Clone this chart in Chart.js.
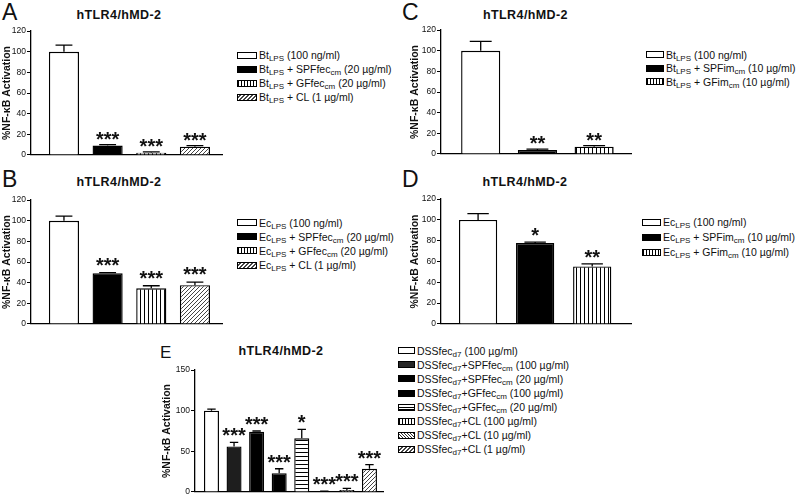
<!DOCTYPE html>
<html>
<head>
<meta charset="utf-8">
<script src="https://cdn.jsdelivr.net/npm/chart.js@4.4.0/dist/chart.umd.min.js"></script>
<style>
html, body { margin: 0; padding: 0; background: #fff; }
#fig { position: relative; width: 796px; height: 498px; overflow: hidden;
       font-family: "Liberation Sans", Arial, sans-serif; color: #111; }
#fig canvas { position: absolute; }
.letter { position: absolute; font-size: 23px; line-height: 23px; }
.title { position: absolute; width: 120px; text-align: center; font-weight: bold;
         font-size: 12.5px; line-height: 12px; letter-spacing: 0.4px; }
.row { position: absolute; height: 12px; line-height: 12px; font-size: 10.5px; white-space: nowrap; }
.sw { position: absolute; left: 0; top: 2.5px; height: 7px; box-sizing: border-box; border: 1px solid #000; }
.row .t { position: absolute; top: 0; }
sub { font-size: 8px; vertical-align: -2px; line-height: 0; }
</style>
</head>
<body>
<div id="fig"></div>
<script>
// --- data ---
const panelALabels = ['Bt<sub>LPS</sub> (100 ng/ml)', 'Bt<sub>LPS</sub> + SPFfec<sub>cm</sub> (20 µg/ml)',
                      'Bt<sub>LPS</sub> + GFfec<sub>cm</sub> (20 µg/ml)', 'Bt<sub>LPS</sub> + CL (1 µg/ml)'];
const panelAValues = [100, 9, 2.2, 8];
const panelAErrors = [6.5, 1, 0.8, 1];
const panelAStars = ['', '***', '***', '***'];

const panelBLabels = ['Ec<sub>LPS</sub> (100 ng/ml)', 'Ec<sub>LPS</sub> + SPFfec<sub>cm</sub> (20 µg/ml)',
                      'Ec<sub>LPS</sub> + GFfec<sub>cm</sub> (20 µg/ml)', 'Ec<sub>LPS</sub> + CL (1 µg/ml)'];
const panelBValues = [100, 49, 34.5, 37.5];
const panelBErrors = [4.5, 0.7, 2.5, 3];
const panelBStars = ['', '***', '***', '***'];

const panelCLabels = ['Bt<sub>LPS</sub> (100 ng/ml)', 'Bt<sub>LPS</sub> + SPFim<sub>cm</sub> (10 µg/ml)',
                      'Bt<sub>LPS</sub> + GFim<sub>cm</sub> (10 µg/ml)'];
const panelCValues = [100, 3.8, 7];
const panelCErrors = [9, 0.8, 1];
const panelCStars = ['', '**', '**'];

const panelDLabels = ['Ec<sub>LPS</sub> (100 ng/ml)', 'Ec<sub>LPS</sub> + SPFim<sub>cm</sub> (10 µg/ml)',
                      'Ec<sub>LPS</sub> + GFim<sub>cm</sub> (10 µg/ml)'];
const panelDValues = [100, 77.7, 55.3];
const panelDErrors = [6, 0.9, 2.4];
const panelDStars = ['', '*', '**'];

const panelELabels = ['DSSfec<sub>d7</sub> (100 µg/ml)', 'DSSfec<sub>d7</sub>+SPFfec<sub>cm</sub> (100 µg/ml)',
                      'DSSfec<sub>d7</sub>+SPFfec<sub>cm</sub> (20 µg/ml)', 'DSSfec<sub>d7</sub>+GFfec<sub>cm</sub> (100 µg/ml)',
                      'DSSfec<sub>d7</sub>+GFfec<sub>cm</sub> (20 µg/ml)', 'DSSfec<sub>d7</sub>+CL (100 µg/ml)',
                      'DSSfec<sub>d7</sub>+CL (10 µg/ml)', 'DSSfec<sub>d7</sub>+CL (1 µg/ml)'];
const panelEValues = [100, 56, 74, 23, 66, 0.5, 2.4, 28.5];
const panelEErrors = [2, 5, 1, 5.5, 11, 0.5, 2, 5];
const panelEStars = ['', '***', '***', '***', '*', '***', '***', '***'];

const yTitle = '%NF-\u03baB Activation';
const panelTitle = 'hTLR4/hMD-2';

Chart.defaults.font.family = '"Liberation Sans", Arial, sans-serif';
Chart.defaults.color = '#111';

// fill patterns for the bars
function tile(w, h, draw) {
  const c = document.createElement('canvas');
  c.width = w; c.height = h;
  const g = c.getContext('2d');
  g.fillStyle = '#fff'; g.fillRect(0, 0, w, h);
  draw(g);
  return document.createElement('canvas').getContext('2d').createPattern(c, 'repeat');
}
function barFill(key) {
  if (key === 'white') return '#fff';
  if (key === 'black') return '#000';
  if (key === 'dark') return '#1e1e1e';
  if (key === 'vstripe') return tile(4, 4, g => { g.fillStyle = '#000'; g.fillRect(0, 0, 1, 4); });
  if (key === 'hstripe') return tile(4, 4, g => { g.fillStyle = '#000'; g.fillRect(0, 0, 4, 1); });
  if (key === 'hatch') return tile(4, 4, g => { g.fillStyle = '#444'; for (let i = 0; i < 4; i++) g.fillRect(i, 3 - i, 1, 1); });
  if (key === 'backhatch') return tile(3, 3, g => { g.fillStyle = '#333'; for (let i = 0; i < 3; i++) g.fillRect(i, i, 1, 1); });
}
function cssFill(key) {
  if (key === 'white') return '#fff';
  if (key === 'black') return '#000';
  if (key === 'dark') return '#262626';
  if (key === 'vstripe') return 'repeating-linear-gradient(90deg,#000 0 1px,#fff 1px 3px)';
  if (key === 'hstripe') return 'repeating-linear-gradient(0deg,#000 0 1px,#fff 1px 2.5px)';
  if (key === 'hatch') return 'repeating-linear-gradient(-45deg,#444 0 1px,#fff 1px 2.8px)';
  if (key === 'backhatch') return 'repeating-linear-gradient(45deg,#333 0 1px,#fff 1px 2.2px)';
}

// error bars and significance stars
const errorBars = {
  id: 'errorBars',
  afterDatasetsDraw(chart, args, opts) {
    const ctx = chart.ctx, y = chart.scales.y;
    const meta = chart.getDatasetMeta(0);
    ctx.save();
    ctx.strokeStyle = '#000';
    ctx.lineWidth = 1.3;
    ctx.fillStyle = '#111';
    ctx.font = 'bold 20px "Liberation Sans", Arial, sans-serif';
    ctx.textAlign = 'center';
    ctx.textBaseline = 'alphabetic';
    meta.data.forEach((bar, i) => {
      const top = y.getPixelForValue(opts.values[i]);
      const tip = y.getPixelForValue(opts.values[i] + opts.errors[i]);
      const cap = bar.width * 0.28;
      ctx.beginPath();
      ctx.moveTo(bar.x, top); ctx.lineTo(bar.x, tip);
      ctx.moveTo(bar.x - cap, tip); ctx.lineTo(bar.x + cap, tip);
      ctx.stroke();
      if (opts.stars[i]) ctx.fillText(opts.stars[i], bar.x, tip - opts.gap + 11);
    });
    ctx.restore();
  }
};

const fig = document.getElementById('fig');

function addDiv(cls, html, left, top) {
  const d = document.createElement('div');
  d.className = cls;
  d.innerHTML = html;
  d.style.left = left + 'px';
  d.style.top = top + 'px';
  fig.appendChild(d);
  return d;
}

function panel(p) {
  addDiv('letter', p.id, p.letterX, p.letterY).style.fontSize = p.letterSize + 'px';
  addDiv('title', panelTitle, p.titleX - 60, p.titleY);

  const cv = document.createElement('canvas');
  cv.width = p.w; cv.height = p.h;
  cv.style.left = p.left + 'px'; cv.style.top = p.top + 'px';
  fig.appendChild(cv);

  new Chart(cv, {
    type: 'bar',
    data: {
      datasets: [{
        data: p.values.map((v, i) => ({ x: i, y: v })),
        backgroundColor: p.fills.map(barFill),
        borderColor: '#000',
        borderWidth: 1.4,
        barPercentage: p.barPct,
        categoryPercentage: 1
      }]
    },
    options: {
      responsive: false,
      animation: false,
      layout: { padding: p.pad },
      plugins: {
        legend: { display: false },
        tooltip: { enabled: false },
        errorBars: { values: p.values, errors: p.errors, stars: p.stars, gap: p.gap }
      },
      scales: {
        x: {
          type: 'linear', min: p.xMin, max: p.xMax, offset: false,
          ticks: { display: false },
          grid: { display: false },
          border: { display: true, color: '#000', width: 1.3 },
          afterFit: s => { s.height = 0; }
        },
        y: {
          min: 0, max: p.yMax,
          ticks: { stepSize: p.step, font: { size: 8.5 }, padding: 1, color: '#111' },
          grid: { drawOnChartArea: false, drawTicks: true, tickLength: 4, color: '#000' },
          border: { display: true, color: '#000', width: 1.3 },
          title: { display: true, text: yTitle, font: { size: 10.5, weight: 'bold' }, padding: { top: 1, bottom: 0 }, color: '#111' },
          afterFit: s => { s.width = p.axisW; }
        }
      }
    },
    plugins: [errorBars]
  });

  p.labels.forEach((txt, i) => {
    const row = addDiv('row', '', p.legX, p.legY + i * p.legStep - 6);
    const sw = document.createElement('div');
    sw.className = 'sw';
    sw.style.width = p.swW + 'px';
    sw.style.background = cssFill(p.fills[i]);
    row.appendChild(sw);
    const t = document.createElement('span');
    t.className = 't';
    t.style.left = (p.swW + 2) + 'px';
    t.innerHTML = txt;
    row.appendChild(t);
  });
}

panel({ id: 'A', letterX: 2, letterY: 1, letterSize: 23, titleX: 119, titleY: 8.5,
  left: 0, top: 25, w: 228, h: 136, axisW: 31, pad: { top: 6, bottom: 6, right: 6 },
  yMax: 120, step: 20, xMin: -0.755, xMax: 3.62, barPct: 0.69, gap: 10,
  values: panelAValues, errors: panelAErrors, stars: panelAStars, labels: panelALabels,
  fills: ['white', 'black', 'vstripe', 'hatch'],
  legX: 237, legY: 55, legStep: 14, swW: 20 });

panel({ id: 'B', letterX: 2, letterY: 168, letterSize: 23, titleX: 119, titleY: 175.5,
  left: 0, top: 194, w: 228, h: 136, axisW: 31, pad: { top: 6, bottom: 6, right: 6 },
  yMax: 120, step: 20, xMin: -0.755, xMax: 3.62, barPct: 0.69, gap: 12,
  values: panelBValues, errors: panelBErrors, stars: panelBStars, labels: panelBLabels,
  fills: ['white', 'black', 'vstripe', 'hatch'],
  legX: 237, legY: 222.5, legStep: 14.2, swW: 20 });

panel({ id: 'C', letterX: 402, letterY: 1, letterSize: 23, titleX: 525.5, titleY: 8.5,
  left: 408, top: 24, w: 230, h: 136, axisW: 33, pad: { top: 6, bottom: 6, right: 7 },
  yMax: 120, step: 20, xMin: -0.70, xMax: 2.65, barPct: 0.69, gap: 10,
  values: panelCValues, errors: panelCErrors, stars: panelCStars, labels: panelCLabels,
  fills: ['white', 'black', 'vstripe'],
  legX: 646, legY: 54.5, legStep: 13.7, swW: 18 });

panel({ id: 'D', letterX: 402, letterY: 168, letterSize: 23, titleX: 525, titleY: 175.5,
  left: 408, top: 193, w: 230, h: 137, axisW: 33, pad: { top: 6, bottom: 6, right: 7 },
  yMax: 120, step: 20, xMin: -0.65, xMax: 2.68, barPct: 0.67, gap: 11,
  values: panelDValues, errors: panelDErrors, stars: panelDStars, labels: panelDLabels,
  fills: ['white', 'black', 'vstripe'],
  legX: 642, legY: 222, legStep: 15, swW: 19 });

panel({ id: 'E', letterX: 160, letterY: 341, letterSize: 17, titleX: 281, titleY: 345,
  left: 160, top: 364, w: 230, h: 134, axisW: 35, pad: { top: 6, bottom: 5, right: 7 },
  yMax: 150, step: 50, xMin: -0.73, xMax: 7.6, barPct: 0.665, gap: 11,
  values: panelEValues, errors: panelEErrors, stars: panelEStars, labels: panelELabels,
  fills: ['white', 'dark', 'black', 'black', 'hstripe', 'vstripe', 'backhatch', 'hatch'],
  legX: 398, legY: 350.7, legStep: 14.1, swW: 17 });
</script>
</body>
</html>
